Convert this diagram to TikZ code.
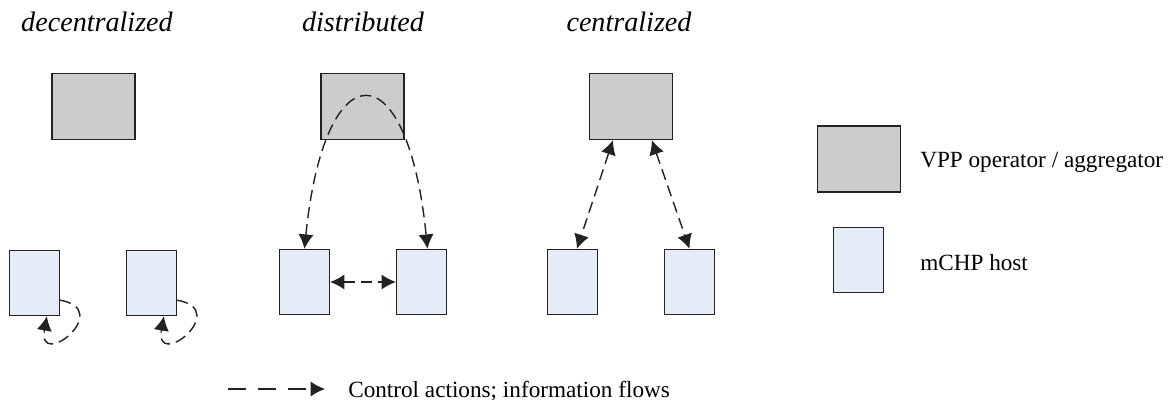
\documentclass[tikz,border=0pt]{standalone}
\usepackage{fontspec}
\setmainfont{Liberation Serif}
\usepackage{tikz}
\usetikzlibrary{arrows.meta,calc}
\definecolor{vppgray}{HTML}{CCCCCC}
\definecolor{hostblue}{HTML}{E6ECF7}
\definecolor{edgegray}{HTML}{222222}
\begin{document}
\begin{tikzpicture}[x=0.025cm,y=-0.025cm,
  vpp/.style={draw=edgegray,line width=1.1pt,fill=vppgray,minimum width=2.08cm,minimum height=1.64cm,inner sep=0pt},
  host/.style={draw=edgegray,line width=1.1pt,fill=hostblue,minimum width=1.24cm,minimum height=1.62cm,inner sep=0pt},
  flow/.style={draw=edgegray,line width=1pt,dash pattern=on 0.28cm off 0.15cm,-{Latex[length=3.6mm,width=3.8mm]}},
  flowboth/.style={flow,{Latex[length=3.6mm,width=3.8mm]}-{Latex[length=3.6mm,width=3.8mm]}},
  title/.style={font=\fontsize{20}{24}\selectfont\itshape,anchor=base,inner sep=0pt},
  lbl/.style={font=\fontsize{16.5}{20}\selectfont,anchor=base west,inner sep=0pt}]
\useasboundingbox (0,0) rectangle (1172,400);

\node[title] (tdec) at (97,32) {decentralized};
\node[title] (tdis) at (363,32) {distributed};
\node[title] (tcen) at (629,32) {centralized};

\node[vpp] (d0) at (93.5,106.5) {};
\node[host] (d1) at (34.5,283) {};
\node[host] (d2) at (151.5,283) {};
\draw[flow] ([yshift=0.4cm]d1.south east) .. controls +(-10:1.4cm) and +(-100:1.4cm) .. ([xshift=-0.33cm]d1.south east);
\draw[flow] ([yshift=0.4cm]d2.south east) .. controls +(-10:1.4cm) and +(-100:1.4cm) .. ([xshift=-0.33cm]d2.south east);

\node[vpp] (s0) at (362.5,106.5) {};
\node[host] (s1) at (304.5,282) {};
\node[host] (s2) at (421.5,282) {};
\draw[flowboth] (s1.north) .. controls +(0.5cm,5cm) and +(-0.5cm,5cm) .. ([xshift=0.15cm]s2.north);
\draw[flowboth] (s1.east) -- (s2.west);

\node[vpp] (c0) at (631,106.5) {};
\node[host] (c1) at (572.5,282) {};
\node[host] (c2) at (689.5,282) {};
\draw[flowboth] ([xshift=-0.45cm]c0.south) -- ([xshift=0.11cm]c1.north);
\draw[flowboth] ([xshift=0.52cm]c0.south) -- (c2.north);

\node[vpp] (kvpp) at (859,159) {};
\node[host] (khost) at (858.5,260) {};
\node[lbl] (tvpp) at (920,168) {VPP operator / aggregator};
\node[lbl] (thost) at (920,271) {mCHP host};

\coordinate (k0) at (228,389);
\coordinate (k1) at (325,389);
\draw[flow,dash pattern=on 0.45cm off 0.3cm] (k0) -- (k1);
\node[lbl] (tflow) at (348,397) {Control actions; information flows};
\end{tikzpicture}
\end{document}
